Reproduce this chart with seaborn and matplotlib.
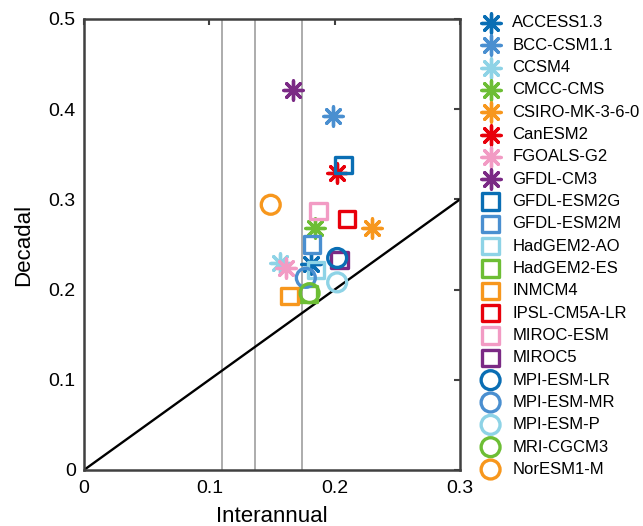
import numpy as np
import pandas as pd
import matplotlib
matplotlib.use("Agg")
import matplotlib.pyplot as plt
import seaborn as sns

# DATA
models = [
    "ACCESS1.3", "BCC-CSM1.1", "CCSM4", "CMCC-CMS", "CSIRO-MK-3-6-0",
    "CanESM2", "FGOALS-G2", "GFDL-CM3",
    "GFDL-ESM2G", "GFDL-ESM2M", "HadGEM2-AO", "HadGEM2-ES", "INMCM4",
    "IPSL-CM5A-LR", "MIROC-ESM", "MIROC5",
    "MPI-ESM-LR", "MPI-ESM-MR", "MPI-ESM-P", "MRI-CGCM3", "NorESM1-M",
]
interannual = [
    0.181, 0.199, 0.156, 0.184, 0.230, 0.202, 0.161, 0.167,
    0.207, 0.182, 0.185, 0.179, 0.164, 0.210, 0.187, 0.204,
    0.202, 0.177, 0.202, 0.180, 0.149,
]
decadal = [
    0.228, 0.392, 0.230, 0.268, 0.268, 0.329, 0.224, 0.421,
    0.338, 0.250, 0.222, 0.195, 0.193, 0.278, 0.287, 0.233,
    0.235, 0.213, 0.208, 0.196, 0.294,
]
marker_kind = ["ast"] * 8 + ["sq"] * 8 + ["circ"] * 5

# colour cycle shared by the three marker groups
palette_cycle = ["#0a6eb4", "#4a8fd0", "#8ed3e6", "#6dbe35",
                 "#f7971d", "#e8000b", "#f29bc4", "#7b2a85"]
colors = palette_cycle + palette_cycle + palette_cycle[:5]

# grey reference lines and the 1:1 line
ref_lines = [0.1105, 0.1368, 0.174]
diag_x = [0.0, 0.3]

df = pd.DataFrame({
    "model": models,
    "Interannual": interannual,
    "Decadal": decadal,
    "kind": marker_kind,
    "color": colors,
})

sns.set_style("white")
plt.rcParams["font.family"] = ["Liberation Sans", "DejaVu Sans"]
plt.rcParams["text.color"] = "black"
plt.rcParams["axes.labelcolor"] = "black"
plt.rcParams["xtick.labelcolor"] = "black"
plt.rcParams["ytick.labelcolor"] = "black"

fig = plt.figure(figsize=(6.43, 5.26), dpi=100)
ax = fig.add_axes([0.1306, 0.1065, 0.5848, 0.8575])

for xv in ref_lines:
    ax.axvline(xv, color="#a6a6a6", lw=1.3, zorder=1)

sns.lineplot(x=diag_x, y=diag_x, color="black", lw=1.7, ax=ax, zorder=2)

# draw each model so the legend keeps the original order
for _, row in df.iterrows():
    if row["kind"] == "ast":
        sns.scatterplot(x=[row["Interannual"]], y=[row["Decadal"]], ax=ax,
                        marker=(8, 2, 0), s=190, color=row["color"],
                        linewidth=2.4, label=row["model"], zorder=3)
    elif row["kind"] == "sq":
        sns.scatterplot(x=[row["Interannual"]], y=[row["Decadal"]], ax=ax,
                        marker="s", s=140, facecolor="none",
                        edgecolor=row["color"], linewidth=2.4,
                        label=row["model"], zorder=3)
    else:
        sns.scatterplot(x=[row["Interannual"]], y=[row["Decadal"]], ax=ax,
                        marker="o", s=185, facecolor="none",
                        edgecolor=row["color"], linewidth=2.4,
                        label=row["model"], zorder=3)

ax.set_xlim(0, 0.3)
ax.set_ylim(0, 0.5)
ax.set_xticks([0, 0.1, 0.2, 0.3])
ax.set_xticklabels(["0", "0.1", "0.2", "0.3"])
ax.set_yticks([0, 0.1, 0.2, 0.3, 0.4, 0.5])
ax.set_yticklabels(["0", "0.1", "0.2", "0.3", "0.4", "0.5"])
ax.tick_params(direction="in", length=4, width=1.5, color="#404040",
               labelsize=14, labelcolor="black", top=True, right=True)
ax.tick_params(axis="x", pad=7)
ax.tick_params(axis="y", pad=6)
for sp in ax.spines.values():
    sp.set_color("#404040")
    sp.set_linewidth(1.8)

ax.set_xlabel("Interannual", fontsize=16, labelpad=7, color="black")
ax.set_ylabel("Decadal", fontsize=16, labelpad=10, color="black")

leg = ax.legend(loc="upper left", bbox_to_anchor=(1.037, 1.023), frameon=False,
                fontsize=12, labelspacing=0.44, handletextpad=0.7,
                borderaxespad=0, handlelength=1.2)
for t in leg.get_texts():
    t.set_color("black")

fig.savefig("out.png", dpi=100)
